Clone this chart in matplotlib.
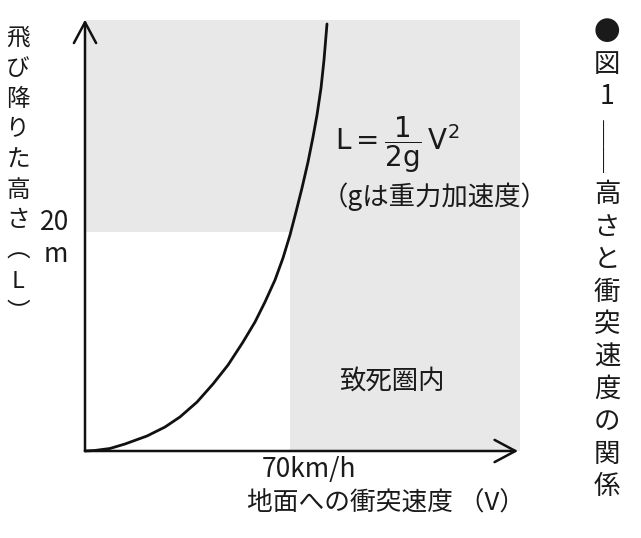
import numpy as np
import matplotlib.pyplot as plt
from matplotlib.patches import Rectangle

plt.rcParams['font.family'] = ['Noto Sans CJK JP', 'DejaVu Sans']
plt.rcParams['mathtext.fontset'] = 'dejavusans'

# curve: speed [km/h] vs height [m]
speed = [0, 3.41, 8.53, 13.65, 21.16, 27.30, 32.42, 38.23, 43.69, 48.81,
         53.92, 58.02, 61.43, 64.85, 67.58, 69.97, 72.01, 74.06, 76.11,
         77.82, 79.18, 80.55, 81.57, 82.59]
height = [0, 0.05, 0.23, 0.64, 1.37, 2.19, 3.11, 4.47, 6.12, 7.85,
          9.95, 11.78, 13.61, 15.62, 17.63, 19.73, 21.83, 24.02, 26.39,
          28.68, 30.68, 33.15, 35.71, 39.00]

v_mark = 70        # km/h
h_mark = 20        # m
x_end = 147.8
y_end = 39.4
shade_right = 148.5

y_label = list('飛び降りた高さ︵L︶')
caption = ['●', '図', '1', '──', '高', 'さ', 'と', '衝', '突', '速', '度', 'の', '関', '係']

W, H = 641, 538
fig = plt.figure(figsize=(W / 100, H / 100), dpi=100)
# origin at pixel (85, 451)
ax = fig.add_axes([85 / W, 1 - 451 / H, 445 / W, 436 / H])
ax.set_xlim(0, 445 / 2.93)
ax.set_ylim(0, 436 / 10.95)
ax.axis('off')

shade = '#e8e8e8'
ax.add_patch(Rectangle((0, h_mark), shade_right, y_end - h_mark,
                       facecolor=shade, edgecolor='none', zorder=0))
ax.add_patch(Rectangle((v_mark, 0), shade_right - v_mark, h_mark,
                       facecolor=shade, edgecolor='none', zorder=0))

ax.plot(speed, height, color='#111111', lw=2.0, clip_on=False,
        solid_capstyle='round', solid_joinstyle='round', zorder=3)

arrow = dict(arrowstyle='->,head_length=0.75,head_width=0.4', lw=1.8,
             color='#111111', mutation_scale=20, shrinkA=0, shrinkB=0)
ax.annotate('', xy=(0, y_end), xytext=(0, 0), arrowprops=arrow,
            annotation_clip=False)
ax.annotate('', xy=(x_end, 0), xytext=(0, 0), arrowprops=arrow,
            annotation_clip=False)


def ftext(px, py, s, **kw):
    fig.text(px / W, 1 - py / H, s, ha='center', va='center',
             color='#1a1a1a', **kw)


ftext(55, 222, '20', fontsize=19)
ftext(56, 254, 'm', fontsize=19)
ftext(309, 469, '70km/h', fontsize=19)
ftext(386, 504, '地面への衝突速度 （V）', fontsize=18.5)
ftext(393, 381, '致死圏内', fontsize=19)
ftext(397, 145, r'$\mathsf{L{=}\dfrac{1}{2g}\,V^{2}}$', fontsize=20)
ftext(435, 197, '（gは重力加速度）', fontsize=19)

for i, ch in enumerate(y_label):
    ftext(18, 38 + i * 30.5, ch, fontsize=17)

py = 32
for ch in caption:
    if ch == '──':
        # long dash, set vertically
        ftext(607, py + 16, ch, fontsize=19, rotation=90)
        py += 65
    else:
        ftext(607, py, ch, fontsize=19)
        py += 32.5

fig.savefig('out.png', dpi=100, facecolor='white')
